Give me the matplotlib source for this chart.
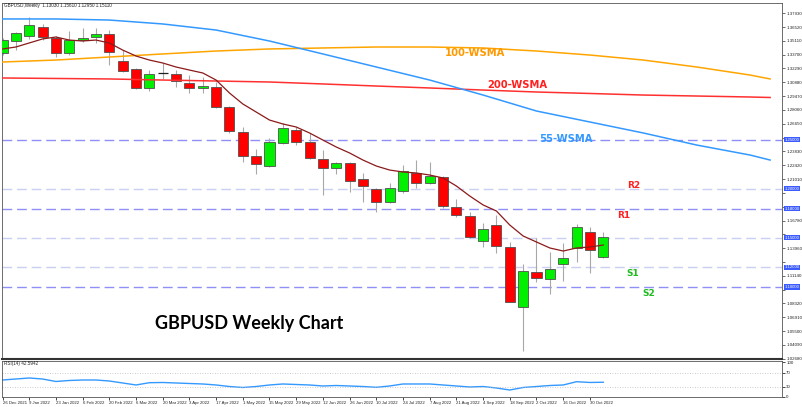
import matplotlib
matplotlib.use("Agg")
import matplotlib.pyplot as plt
import numpy as np
from matplotlib.transforms import blended_transform_factory

W, H = 802, 407

# ---------------- data ----------------
opens = [1.3387, 1.3509, 1.3560, 1.3652, 1.3540, 1.3387, 1.3519, 1.3550, 1.3581, 1.3305,
         1.3224, 1.3030, 1.3183, 1.3173, 1.3081, 1.3030, 1.3040, 1.2836, 1.2581, 1.2336,
         1.2234, 1.2469, 1.2601, 1.2479, 1.2306, 1.2214, 1.2265, 1.2102, 1.2000, 1.1867,
         1.1979, 1.2163, 1.2061, 1.2122, 1.1816, 1.1724, 1.1469, 1.1632, 1.1408, 1.0796,
         1.1153, 1.1082, 1.1235, 1.1398, 1.1561, 1.1303]
highs = [1.3540, 1.3601, 1.3754, 1.3683, 1.3560, 1.3611, 1.3642, 1.3642, 1.3621, 1.3417,
         1.3234, 1.3213, 1.3285, 1.3213, 1.3162, 1.3142, 1.3091, 1.2846, 1.2632, 1.2408,
         1.2520, 1.2673, 1.2632, 1.2571, 1.2397, 1.2275, 1.2275, 1.2163, 1.2010, 1.2061,
         1.2244, 1.2295, 1.2275, 1.2132, 1.1898, 1.1765, 1.1653, 1.1734, 1.1459, 1.1235,
         1.1500, 1.1357, 1.1449, 1.1643, 1.1612, 1.1561]
lows = [1.3366, 1.3417, 1.3530, 1.3519, 1.3346, 1.3366, 1.3499, 1.3489, 1.3264, 1.3193,
        1.3020, 1.2999, 1.3122, 1.3040, 1.2979, 1.2979, 1.2826, 1.2571, 1.2275, 1.2153,
        1.2224, 1.2459, 1.2448, 1.2306, 1.1938, 1.2153, 1.1969, 1.1867, 1.1765, 1.1857,
        1.1959, 1.2010, 1.2051, 1.1806, 1.1714, 1.1500, 1.1408, 1.1347, 1.0847, 1.0347,
        1.1051, 1.0929, 1.1061, 1.1255, 1.1143, 1.1295]
closes = [1.3519, 1.3591, 1.3672, 1.3550, 1.3387, 1.3519, 1.3540, 1.3581, 1.3397, 1.3203,
          1.3030, 1.3173, 1.3183, 1.3101, 1.3030, 1.3050, 1.2836, 1.2591, 1.2336, 1.2255,
          1.2479, 1.2622, 1.2479, 1.2316, 1.2214, 1.2265, 1.2081, 1.2030, 1.1867, 1.2010,
          1.2183, 1.2061, 1.2132, 1.1826, 1.1734, 1.1510, 1.1592, 1.1418, 1.0847, 1.1163,
          1.1092, 1.1184, 1.1296, 1.1612, 1.1377, 1.1511]

# short-term (maroon) moving average, one value per bar
short_ma = [1.3428, 1.3448, 1.3489, 1.3530, 1.3550, 1.3519, 1.3509, 1.3519, 1.3489, 1.3417,
            1.3356, 1.3315, 1.3285, 1.3244, 1.3213, 1.3183, 1.3111, 1.2979, 1.2867, 1.2785,
            1.2703, 1.2663, 1.2632, 1.2571, 1.2499, 1.2428, 1.2367, 1.2295, 1.2234, 1.2193,
            1.2173, 1.2163, 1.2142, 1.2112, 1.2030, 1.1928, 1.1837, 1.1775, 1.1632, 1.1520,
            1.1459, 1.1398, 1.1367, 1.1398, 1.1408, 1.1428]

# long (shifted) weekly SMAs, sampled at bar positions
wsma_pos = [0, 4, 8, 12, 16, 20, 24, 28, 32, 36, 40, 44, 48, 52, 56, 57.5]
wsma55 = [1.3734, 1.3734, 1.3723, 1.3683, 1.3621, 1.3509, 1.3377, 1.3244, 1.3111, 1.2958,
          1.2795, 1.2683, 1.2571, 1.2448, 1.2346, 1.2295]
wsma100 = [1.3295, 1.3315, 1.3346, 1.3377, 1.3407, 1.3428, 1.3438, 1.3448, 1.3448, 1.3438,
           1.3407, 1.3366, 1.3315, 1.3244, 1.3162, 1.3122]
wsma200 = [1.3132, 1.3127, 1.3122, 1.3111, 1.3101, 1.3091, 1.3071, 1.3050, 1.3030, 1.3009,
           1.2989, 1.2974, 1.2958, 1.2948, 1.2938, 1.2933]

rsi = [49.1, 52.0, 54.9, 52.0, 44.8, 47.7, 49.1, 49.1, 46.2, 40.5,
       34.7, 41.3, 41.9, 40.5, 39.0, 37.6, 34.7, 30.3, 27.5, 30.3,
       34.7, 37.6, 36.1, 34.7, 31.8, 33.2, 31.8, 30.3, 28.0, 31.8,
       37.6, 37.6, 37.6, 34.7, 31.8, 28.9, 30.3, 26.0, 20.2, 27.5,
       30.3, 33.2, 34.7, 44.2, 42.0, 42.6]

date_labels = ["26 Dec 2021", "9 Jan 2022", "23 Jan 2022", "6 Feb 2022", "20 Feb 2022",
               "6 Mar 2022", "20 Mar 2022", "3 Apr 2022", "17 Apr 2022", "1 May 2022",
               "15 May 2022", "29 May 2022", "12 Jun 2022", "26 Jun 2022", "10 Jul 2022",
               "24 Jul 2022", "7 Aug 2022", "21 Aug 2022", "4 Sep 2022", "18 Sep 2022",
               "2 Oct 2022", "16 Oct 2022", "30 Oct 2022"]

price_ticks = [1.02680, 1.04090, 1.05500, 1.06910, 1.08320, 1.09730, 1.11140, 1.12550,
               1.13960, 1.15370, 1.16780, 1.18190, 1.19600, 1.21010, 1.22420, 1.23830,
               1.25240, 1.26650, 1.28060, 1.29470, 1.30880, 1.32290, 1.33700, 1.35110,
               1.36520, 1.37930]

levels = [1.25, 1.20, 1.18, 1.15, 1.12, 1.10]
level_strong = [True, False, True, False, False, True]

rsi_ticks = [100, 70, 30, 0]

# ---------------- figure ----------------
small_font = "Liberation Sans"
fig = plt.figure(figsize=(W / 100, H / 100), dpi=100)
fig.patch.set_facecolor("white")

ax = fig.add_axes([2 / W, 1 - 359 / H, 780 / W, 356 / H])
axr = fig.add_axes([2 / W, 1 - 397 / H, 780 / W, 36 / H], sharex=ax)

n = len(opens)
idx = np.arange(n)

# candles
for i in range(n):
    o, h, l, c = opens[i], highs[i], lows[i], closes[i]
    ax.vlines(i, l, h, color="#a8a8a8", lw=0.8, zorder=2)
    if c == o:
        ax.hlines(o, i - 0.37, i + 0.37, color="#202020", lw=0.9, zorder=3)
    else:
        col = "#00F000" if c > o else "#FF0000"
        ax.bar(i, abs(c - o), bottom=min(o, c), width=0.75, color=col,
               edgecolor="#505050", linewidth=0.6, zorder=3)

# level lines
for lvl, strong in zip(levels, level_strong):
    ax.axhline(lvl, color="#8f8ff5" if strong else "#c9d0f2", lw=1.0,
               ls=(0, (7, 3.5)), zorder=1)

# moving averages
ax.plot(wsma_pos, wsma100, color="#FFA500", lw=1.1, zorder=4)
ax.plot(wsma_pos, wsma200, color="#FF3030", lw=1.1, zorder=4)
ax.plot(wsma_pos, wsma55, color="#3399FF", lw=1.1, zorder=4)
ax.plot(idx, short_ma, color="#8B1A1A", lw=0.9, zorder=5)

ax.set_xlim(-0.0375, 58.39)
ax.set_ylim(1.02656, 1.38968)

# right price scale; labels hidden where a level tag covers them
ax.yaxis.tick_right()
ax.set_yticks(price_ticks)
ppx = 356 / (1.38968 - 1.02656)
tick_txt = []
for v in price_ticks:
    near = any(abs(v - lvl) * ppx < 6 for lvl in levels)
    tick_txt.append("" if near else f"{v:.5f}")
ax.set_yticklabels(tick_txt, fontfamily=small_font)
ax.tick_params(axis="y", labelsize=3.2, length=2, width=0.5, pad=1,
               colors="#333333", labelcolor="#222222")
ax.tick_params(axis="x", bottom=False, labelbottom=False)
for s in ax.spines.values():
    s.set_color("#555555")
    s.set_linewidth(0.6)
ax.spines["bottom"].set_linewidth(1.5)
ax.spines["bottom"].set_color("#333333")

trans = blended_transform_factory(ax.transAxes, ax.transData)
for lvl in levels:
    ax.text(1.003, lvl, f"{lvl:.5f}", transform=trans, fontsize=3.1, color="white",
            fontfamily=small_font, va="center", ha="left", clip_on=False, zorder=10,
            bbox=dict(boxstyle="square,pad=0.12", fc="#3c5cff", ec="none"))

# RSI panel
axr.plot(idx, rsi, color="#3399FF", lw=1.0)
axr.axhline(70, color="#bbbbbb", lw=0.6, ls=(0, (1, 2)))
axr.axhline(30, color="#bbbbbb", lw=0.6, ls=(0, (1, 2)))
axr.set_ylim(0, 104)
axr.yaxis.tick_right()
axr.set_yticks(rsi_ticks)
axr.set_yticklabels([str(v) for v in rsi_ticks], fontfamily=small_font)
axr.tick_params(axis="y", labelsize=3.2, length=2, width=0.5, pad=1, labelcolor="#222222")
axr.set_xticks(idx[::2][:len(date_labels)])
axr.set_xticklabels(date_labels, fontfamily=small_font, ha="left")
axr.tick_params(axis="x", labelsize=3.1, length=2, width=0.5, pad=1, labelcolor="#222222")
for s in axr.spines.values():
    s.set_color("#555555")
    s.set_linewidth(0.6)

# texts
fig.text(4 / W, 1 - 6 / H, "GBPUSD,Weekly  1.13030 1.15610 1.12950 1.15110",
         fontsize=3.3, fontfamily=small_font, va="center", color="#222222")
fig.text(4 / W, 1 - 364 / H, "RSI(14) 42.5942", fontsize=3.3, fontfamily=small_font,
         va="center", color="#222222")

bold = dict(fontweight="bold", va="center", ha="left", fontfamily="DejaVu Sans")
fig.text(445 / W, 1 - 53 / H, "100-WSMA", color="#FF9900", fontsize=7.2, **bold)
fig.text(487 / W, 1 - 85 / H, "200-WSMA", color="#FF2020", fontsize=7.2, **bold)
fig.text(539 / W, 1 - 139 / H, "55-WSMA", color="#3399FF", fontsize=7.2, **bold)
fig.text(627 / W, 1 - 185 / H, "R2", color="#FF2020", fontsize=6.5, **bold)
fig.text(617 / W, 1 - 216 / H, "R1", color="#FF2020", fontsize=6.5, **bold)
fig.text(626 / W, 1 - 273 / H, "S1", color="#22BB22", fontsize=6.5, **bold)
fig.text(642 / W, 1 - 294 / H, "S2", color="#22BB22", fontsize=6.5, **bold)
fig.text(155 / W, 1 - 323 / H, "GBPUSD Weekly Chart", color="black", fontsize=13,
         fontweight="bold", fontfamily="Lato", va="center", ha="left")

fig.savefig("out.png", dpi=100, facecolor="white")
